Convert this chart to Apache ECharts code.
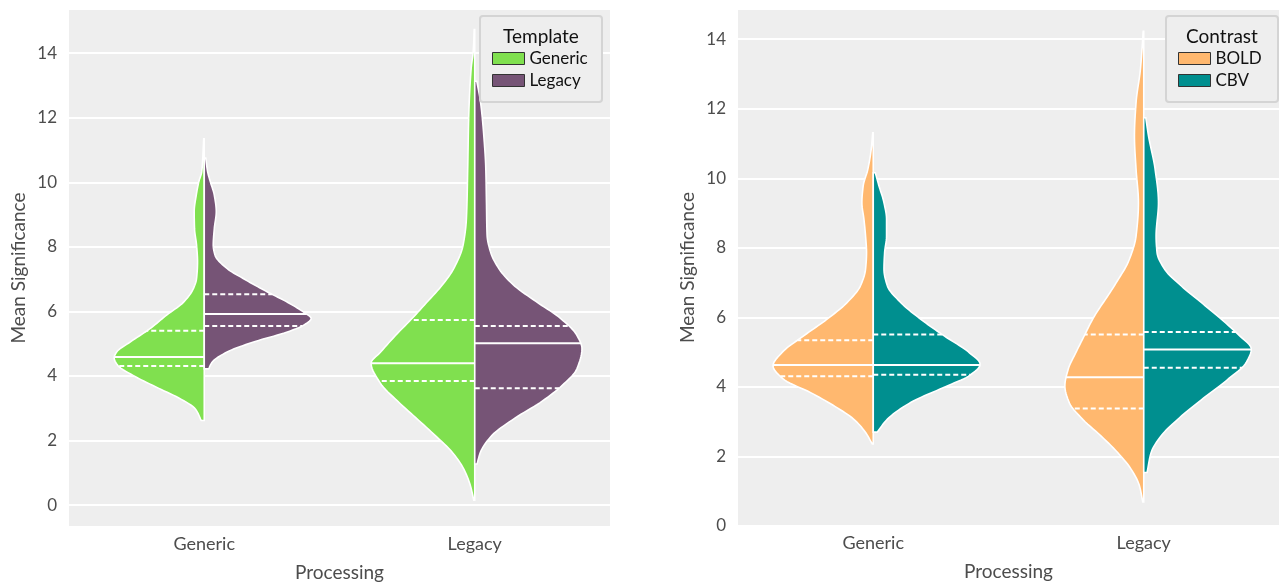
<!DOCTYPE html>
<html><head><meta charset="utf-8">
<script src="https://cdn.jsdelivr.net/npm/echarts@6/dist/echarts.min.js"></script>
<style>html,body{margin:0;padding:0;background:#fff}#c{width:1281px;height:582px}</style>
</head><body><div id="c"></div>
<script>
// ---------- data ----------
const processing = ['Generic', 'Legacy'];
const templateNames = ['Generic', 'Legacy'];
const contrastNames = ['BOLD', 'CBV'];

// Left panel: Template (density profiles, values top -> bottom; d = relative density)
const tplGenericOnGenericV = [11.35, 10.75, 10.33, 10.02, 9.6, 9.09, 8.57, 8.05, 7.54, 7.02, 6.71, 6.29, 5.88, 5.47, 5.05, 4.74, 4.56, 4.33, 4.02, 3.6, 3.29, 2.98, 2.62];
const tplGenericOnGenericD = [0.005, 0.014, 0.023, 0.05, 0.074, 0.093, 0.09, 0.071, 0.062, 0.071, 0.10, 0.19, 0.35, 0.50, 0.685, 0.81, 0.833, 0.80, 0.66, 0.41, 0.22, 0.083, 0.028];
const tplGenericOnGenericQ = [4.31, 4.59, 5.40];

const tplLegacyOnGenericV = [10.75, 10.33, 10.02, 9.6, 9.09, 8.57, 8.05, 7.74, 7.33, 7.02, 6.61, 6.29, 5.98, 5.78, 5.57, 5.36, 5.05, 4.74, 4.43, 4.22];
const tplLegacyOnGenericD = [0.014, 0.031, 0.056, 0.093, 0.111, 0.093, 0.083, 0.10, 0.21, 0.36, 0.58, 0.766, 0.917, 0.988, 0.917, 0.766, 0.454, 0.21, 0.074, 0.04];
const tplLegacyOnGenericQ = [5.55, 5.92, 6.53];

const tplGenericOnLegacyV = [14.73, 14.06, 13.54, 12.0, 10.43, 8.88, 8.05, 7.33, 6.81, 6.29, 5.78, 5.26, 4.73, 4.4, 3.78, 3.19, 2.67, 2.15, 1.64, 1.12, 0.6, 0.15];
const tplGenericOnLegacyD = [0.005, 0.014, 0.033, 0.056, 0.065, 0.077, 0.108, 0.194, 0.302, 0.441, 0.58, 0.731, 0.873, 0.958, 0.873, 0.704, 0.533, 0.364, 0.209, 0.102, 0.04, 0.009];
const tplGenericOnLegacyQ = [3.84, 4.39, 5.73];

const tplLegacyOnLegacyV = [13.13, 12.5, 11.47, 10.43, 9.4, 8.36, 7.85, 7.33, 6.81, 6.29, 5.78, 5.26, 4.85, 4.22, 3.7, 3.19, 2.67, 2.15, 1.64, 1.27];
const tplLegacyOnLegacyD = [0.019, 0.053, 0.083, 0.102, 0.108, 0.114, 0.145, 0.222, 0.361, 0.574, 0.794, 0.944, 0.991, 0.944, 0.806, 0.611, 0.361, 0.157, 0.053, 0.021];
const tplLegacyOnLegacyQ = [3.62, 5.01, 5.55];

// Right panel: Contrast
const conBoldOnGenericV = [11.31, 10.83, 10.26, 9.78, 9.3, 8.82, 8.34, 7.86, 7.39, 6.91, 6.43, 5.95, 5.47, 4.99, 4.61, 4.22, 3.84, 3.46, 3.07, 2.69, 2.36];
const conBoldOnGenericD = [0.005, 0.019, 0.05, 0.093, 0.105, 0.086, 0.071, 0.062, 0.071, 0.118, 0.241, 0.426, 0.643, 0.843, 0.926, 0.828, 0.581, 0.365, 0.18, 0.071, 0.009];
const conBoldOnGenericQ = [4.31, 4.63, 5.34];

const conCbvOnGenericV = [10.16, 9.78, 9.3, 8.82, 8.34, 7.86, 7.39, 6.91, 6.43, 5.95, 5.47, 4.99, 4.65, 4.32, 4.03, 3.55, 3.07, 2.70];
const conCbvOnGenericD = [0.019, 0.053, 0.099, 0.123, 0.123, 0.105, 0.099, 0.13, 0.253, 0.438, 0.655, 0.886, 0.988, 0.886, 0.685, 0.345, 0.13, 0.037];
const conCbvOnGenericQ = [4.35, 4.63, 5.51];

const conBoldOnLegacyV = [14.23, 13.8, 13.13, 12.18, 11.22, 10.26, 9.3, 8.34, 7.67, 6.91, 5.95, 5.47, 4.99, 4.51, 4.03, 3.55, 3.07, 2.59, 2.11, 1.64, 1.16, 0.69];
const conBoldOnLegacyD = [0.005, 0.014, 0.031, 0.071, 0.086, 0.071, 0.049, 0.071, 0.133, 0.272, 0.472, 0.55, 0.627, 0.698, 0.729, 0.689, 0.565, 0.395, 0.241, 0.118, 0.04, 0.009];
const conBoldOnLegacyQ = [3.38, 4.28, 5.51];

const conCbvOnLegacyV = [11.74, 11.22, 10.26, 9.3, 8.34, 7.86, 7.39, 6.91, 6.43, 5.95, 5.47, 5.09, 4.7, 4.22, 3.55, 3.07, 2.59, 2.11, 1.54];
const conCbvOnLegacyD = [0.019, 0.044, 0.105, 0.136, 0.114, 0.123, 0.192, 0.345, 0.531, 0.716, 0.886, 0.994, 0.947, 0.778, 0.5, 0.315, 0.16, 0.068, 0.031];
const conCbvOnLegacyQ = [4.55, 5.08, 5.58];

// ---------- rendering ----------
const FONT = 'Lato, "DejaVu Sans", sans-serif';
const COLORS = { Generic: '#80e04f', Legacy: '#765476', BOLD: '#ffb86f', CBV: '#008f8f' };

function monotone(xs, ys) {
  const n = xs.length, dx = [], m = [];
  for (let i = 0; i < n - 1; i++) { dx[i] = xs[i + 1] - xs[i]; m[i] = (ys[i + 1] - ys[i]) / dx[i]; }
  const t = new Array(n);
  t[0] = m[0]; t[n - 1] = m[n - 2];
  for (let i = 1; i < n - 1; i++) {
    if (m[i - 1] * m[i] <= 0) t[i] = 0;
    else { const w1 = 2 * dx[i] + dx[i - 1], w2 = dx[i] + 2 * dx[i - 1]; t[i] = (w1 + w2) / (w1 / m[i - 1] + w2 / m[i]); }
  }
  return function (x) {
    let i = 0; while (i < n - 2 && x > xs[i + 1]) i++;
    const h = dx[i], s = (x - xs[i]) / h, s2 = s * s, s3 = s2 * s;
    return (2 * s3 - 3 * s2 + 1) * ys[i] + (s3 - 2 * s2 + s) * h * t[i] + (-2 * s3 + 3 * s2) * ys[i + 1] + (s3 - s2) * h * t[i + 1];
  };
}

function makeRender(profiles, side, color) {
  return function (params, api) {
    const cat = api.value(0);
    const p = profiles[cat];
    const vs = p.v.slice().reverse(), ds = p.d.slice().reverse();
    const f = monotone(vs, ds);
    const cx = api.coord([cat, 0])[0];
    const scale = 0.4 * api.size([1, 0])[0];
    const lo = vs[0], hi = vs[vs.length - 1];
    const pts = [[cx, api.coord([cat, lo])[1]]];
    const N = 200;
    for (let i = 0; i <= N; i++) {
      const v = lo + (hi - lo) * i / N;
      const d = Math.max(0, f(v));
      pts.push([cx + side * d * scale, api.coord([cat, v])[1]]);
    }
    pts.push([cx, api.coord([cat, hi])[1]]);
    const children = [{ type: 'polygon', shape: { points: pts }, style: { fill: color, stroke: '#ffffff', lineWidth: 1.6 } }];
    p.q.forEach(function (q, k) {
      const d = Math.max(0, f(q));
      const y = api.coord([cat, q])[1];
      children.push({ type: 'line', shape: { x1: cx, y1: y, x2: cx + side * d * scale, y2: y },
        style: { stroke: '#ffffff', lineWidth: 2, lineDash: k === 1 ? null : [5, 3] } });
    });
    return { type: 'group', children: children };
  };
}

function prof(v, d, q) { return { v: v, d: d, q: q }; }

const chart = echarts.init(document.getElementById('c'), null, { renderer: 'canvas' });

function xAxisCfg(gi) {
  return { type: 'category', gridIndex: gi, data: processing, boundaryGap: true,
    axisLine: { show: false }, axisTick: { show: false }, splitLine: { show: false },
    axisLabel: { color: '#4d4d4d', fontSize: 18, margin: 8, fontFamily: FONT },
    name: 'Processing', nameLocation: 'middle', nameGap: 36,
    nameTextStyle: { color: '#4d4d4d', fontSize: 19, fontFamily: FONT } };
}
function yAxisCfg(gi, min, max) {
  return { type: 'value', gridIndex: gi, min: min, max: max, minInterval: 2, maxInterval: 2,
    axisLine: { show: false }, axisTick: { show: false },
    splitLine: { show: true, lineStyle: { color: '#ffffff', width: 1.8 } },
    axisLabel: { color: '#4d4d4d', fontSize: 17, margin: 12, fontFamily: FONT, showMinLabel: min === 0, showMaxLabel: false },
    name: 'Mean Significance', nameLocation: 'middle', nameGap: 41, nameRotate: 90,
    nameTextStyle: { color: '#4d4d4d', fontSize: 19, fontFamily: FONT } };
}

function violinSeries(name, xi, profiles, side) {
  return { type: 'custom', name: name, xAxisIndex: xi, yAxisIndex: xi, coordinateSystem: 'cartesian2d',
    itemStyle: { color: COLORS[name] }, encode: { x: 0 }, data: [[0], [1]], silent: true,
    renderItem: makeRender(profiles, side, COLORS[name]) };
}

function legendCfg(names, left) {
  return { data: names, orient: 'vertical', left: left, top: 50, padding: 0, itemWidth: 32, itemHeight: 12, itemGap: 5,
    icon: 'rect', selectedMode: false, z: 20,
    itemStyle: { borderColor: '#333333', borderWidth: 1 },
    textStyle: { color: '#111111', fontSize: 17, fontFamily: FONT } };
}

function legendBox(x, w, title) {
  return [
    { type: 'rect', z: 15, shape: { x: x, y: 16, width: w, height: 86, r: 3 },
      style: { fill: '#eeeeee', stroke: '#d4d4d4', lineWidth: 2 } },
    { type: 'text', z: 16, x: x + w / 2, y: 37,
      style: { text: title, fill: '#111111', font: '19px ' + FONT, align: 'center', verticalAlign: 'middle' } }
  ];
}

chart.setOption({
  animation: false,
  grid: [
    { left: 69, top: 9, width: 541, height: 518, show: true, backgroundColor: '#eeeeee', borderWidth: 0, containLabel: false, outerBoundsMode: 'none' },
    { left: 738, top: 9, width: 541, height: 517, show: true, backgroundColor: '#eeeeee', borderWidth: 0, containLabel: false, outerBoundsMode: 'none' }
  ],
  xAxis: [xAxisCfg(0), xAxisCfg(1)],
  yAxis: [yAxisCfg(0, -0.68, 15.37), yAxisCfg(1, 0, 14.87)],
  legend: [legendCfg(templateNames, 492), legendCfg(contrastNames, 1178)],
  graphic: legendBox(480, 122, 'Template').concat(legendBox(1166, 112, 'Contrast')),
  series: [
    violinSeries('Generic', 0, [prof(tplGenericOnGenericV, tplGenericOnGenericD, tplGenericOnGenericQ), prof(tplGenericOnLegacyV, tplGenericOnLegacyD, tplGenericOnLegacyQ)], -1),
    violinSeries('Legacy', 0, [prof(tplLegacyOnGenericV, tplLegacyOnGenericD, tplLegacyOnGenericQ), prof(tplLegacyOnLegacyV, tplLegacyOnLegacyD, tplLegacyOnLegacyQ)], 1),
    violinSeries('BOLD', 1, [prof(conBoldOnGenericV, conBoldOnGenericD, conBoldOnGenericQ), prof(conBoldOnLegacyV, conBoldOnLegacyD, conBoldOnLegacyQ)], -1),
    violinSeries('CBV', 1, [prof(conCbvOnGenericV, conCbvOnGenericD, conCbvOnGenericQ), prof(conCbvOnLegacyV, conCbvOnLegacyD, conCbvOnLegacyQ)], 1)
  ]
});
</script></body></html>
